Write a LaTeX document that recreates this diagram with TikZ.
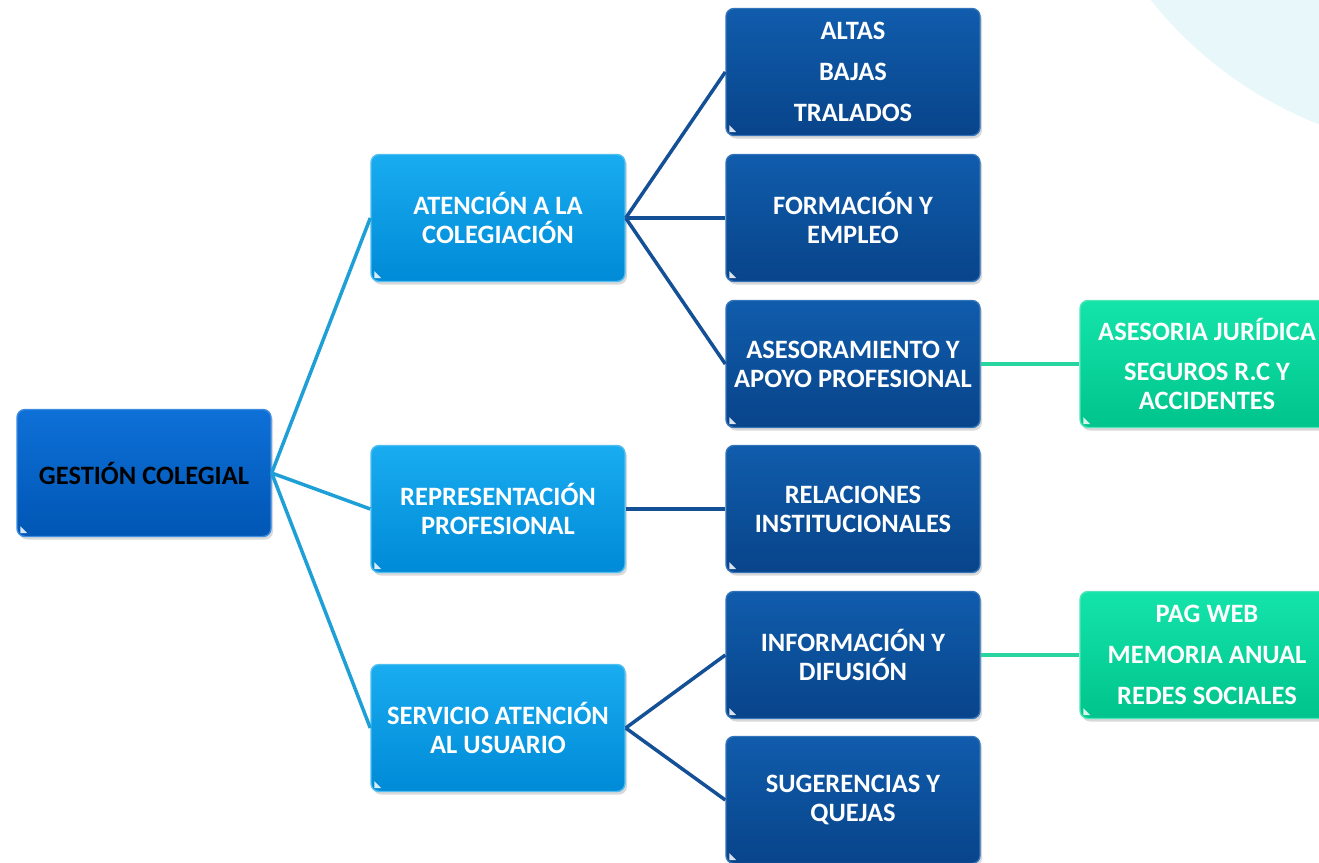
\documentclass[tikz,border=0pt]{standalone}
\usepackage{fontspec}
\setmainfont{Carlito}
\usetikzlibrary{shadows}
\definecolor{bgcyan}{RGB}{232,247,250}
\definecolor{rootT}{RGB}{14,112,215}
\definecolor{rootB}{RGB}{0,86,180}
\definecolor{rootE}{RGB}{60,140,225}
\definecolor{lightT}{RGB}{25,172,240}
\definecolor{lightB}{RGB}{0,138,215}
\definecolor{lightE}{RGB}{80,190,240}
\definecolor{darkT}{RGB}{16,92,172}
\definecolor{darkB}{RGB}{8,68,138}
\definecolor{darkE}{RGB}{50,115,185}
\definecolor{greenT}{RGB}{20,228,170}
\definecolor{greenB}{RGB}{0,196,140}
\definecolor{greenE}{RGB}{80,230,185}
\definecolor{lineL}{RGB}{30,160,215}
\definecolor{lineD}{RGB}{20,80,150}
\definecolor{lineG}{RGB}{40,212,160}
\begin{document}
\begin{tikzpicture}[x=1pt,y=-1pt,
  box/.style={rounded corners=8pt, minimum width=254pt, minimum height=127pt,
    align=center, font=\fontsize{26.5}{29}\selectfont\bfseries, text=white,
    inner sep=0pt, line width=1.4pt,
    drop shadow={opacity=0.3, shadow xshift=2pt, shadow yshift=-3pt}},
  rootbox/.style={box, top color=rootT, bottom color=rootB, draw=rootE, text=black},
  lightbox/.style={box, top color=lightT, bottom color=lightB, draw=lightE},
  darkbox/.style={box, top color=darkT, bottom color=darkB, draw=darkE},
  greenbox/.style={box, top color=greenT, bottom color=greenB, draw=greenE},
  linkL/.style={draw=lineL, line width=3.5pt},
  linkD/.style={draw=lineD, line width=3.5pt},
  linkG/.style={draw=lineG, line width=4pt},
  glint/.style={fill=white, opacity=0.85}
]
\clip (0,0) rectangle (1319,862);
\fill[bgcyan] (1466,-251) circle (403);

\node[rootbox]  (g)  at (144,473) {GESTIÓN COLEGIAL};
\node[lightbox] (a)  at (498,218) {ATENCIÓN A LA\\COLEGIACIÓN};
\node[lightbox] (r)  at (498,509) {REPRESENTACIÓN\\PROFESIONAL};
\node[lightbox] (s)  at (498,728) {SERVICIO ATENCIÓN\\AL USUARIO};
\node[darkbox]  (d1) at (853,72)  {ALTAS\\[12pt]BAJAS\\[12pt]TRALADOS};
\node[darkbox]  (d2) at (853,218) {FORMACIÓN Y\\EMPLEO};
\node[darkbox]  (d3) at (853,364) {ASESORAMIENTO Y\\APOYO PROFESIONAL};
\node[darkbox]  (d4) at (853,509) {RELACIONES\\INSTITUCIONALES};
\node[darkbox]  (d5) at (853,655) {INFORMACIÓN Y\\DIFUSIÓN};
\node[darkbox]  (d6) at (853,800) {SUGERENCIAS Y\\QUEJAS};
\node[greenbox] (e1) at (1207,364) {ASESORIA JURÍDICA\\[11pt]SEGUROS R.C Y\\ACCIDENTES};
\node[greenbox] (e2) at (1207,655) {PAG WEB\\[12pt]MEMORIA ANUAL\\[12pt]REDES SOCIALES};

\foreach \n in {g,a,r,s,d1,d2,d3,d4,d5,d6,e1,e2}{
  \fill[glint] ([shift={(4,-4)}]\n.south west) -- ++(7,0) -- ++(-7,-7) -- cycle;
}

\draw[linkL] (g.east) -- (a.west);
\draw[linkL] (g.east) -- (r.west);
\draw[linkL] (g.east) -- (s.west);
\draw[linkD] (a.east) -- (d1.west);
\draw[linkD] (a.east) -- (d2.west);
\draw[linkD] (a.east) -- (d3.west);
\draw[linkD] (r.east) -- (d4.west);
\draw[linkD] (s.east) -- (d5.west);
\draw[linkD] (s.east) -- (d6.west);
\draw[linkG] (d3.east) -- (e1.west);
\draw[linkG] (d5.east) -- (e2.west);
\end{tikzpicture}
\end{document}
